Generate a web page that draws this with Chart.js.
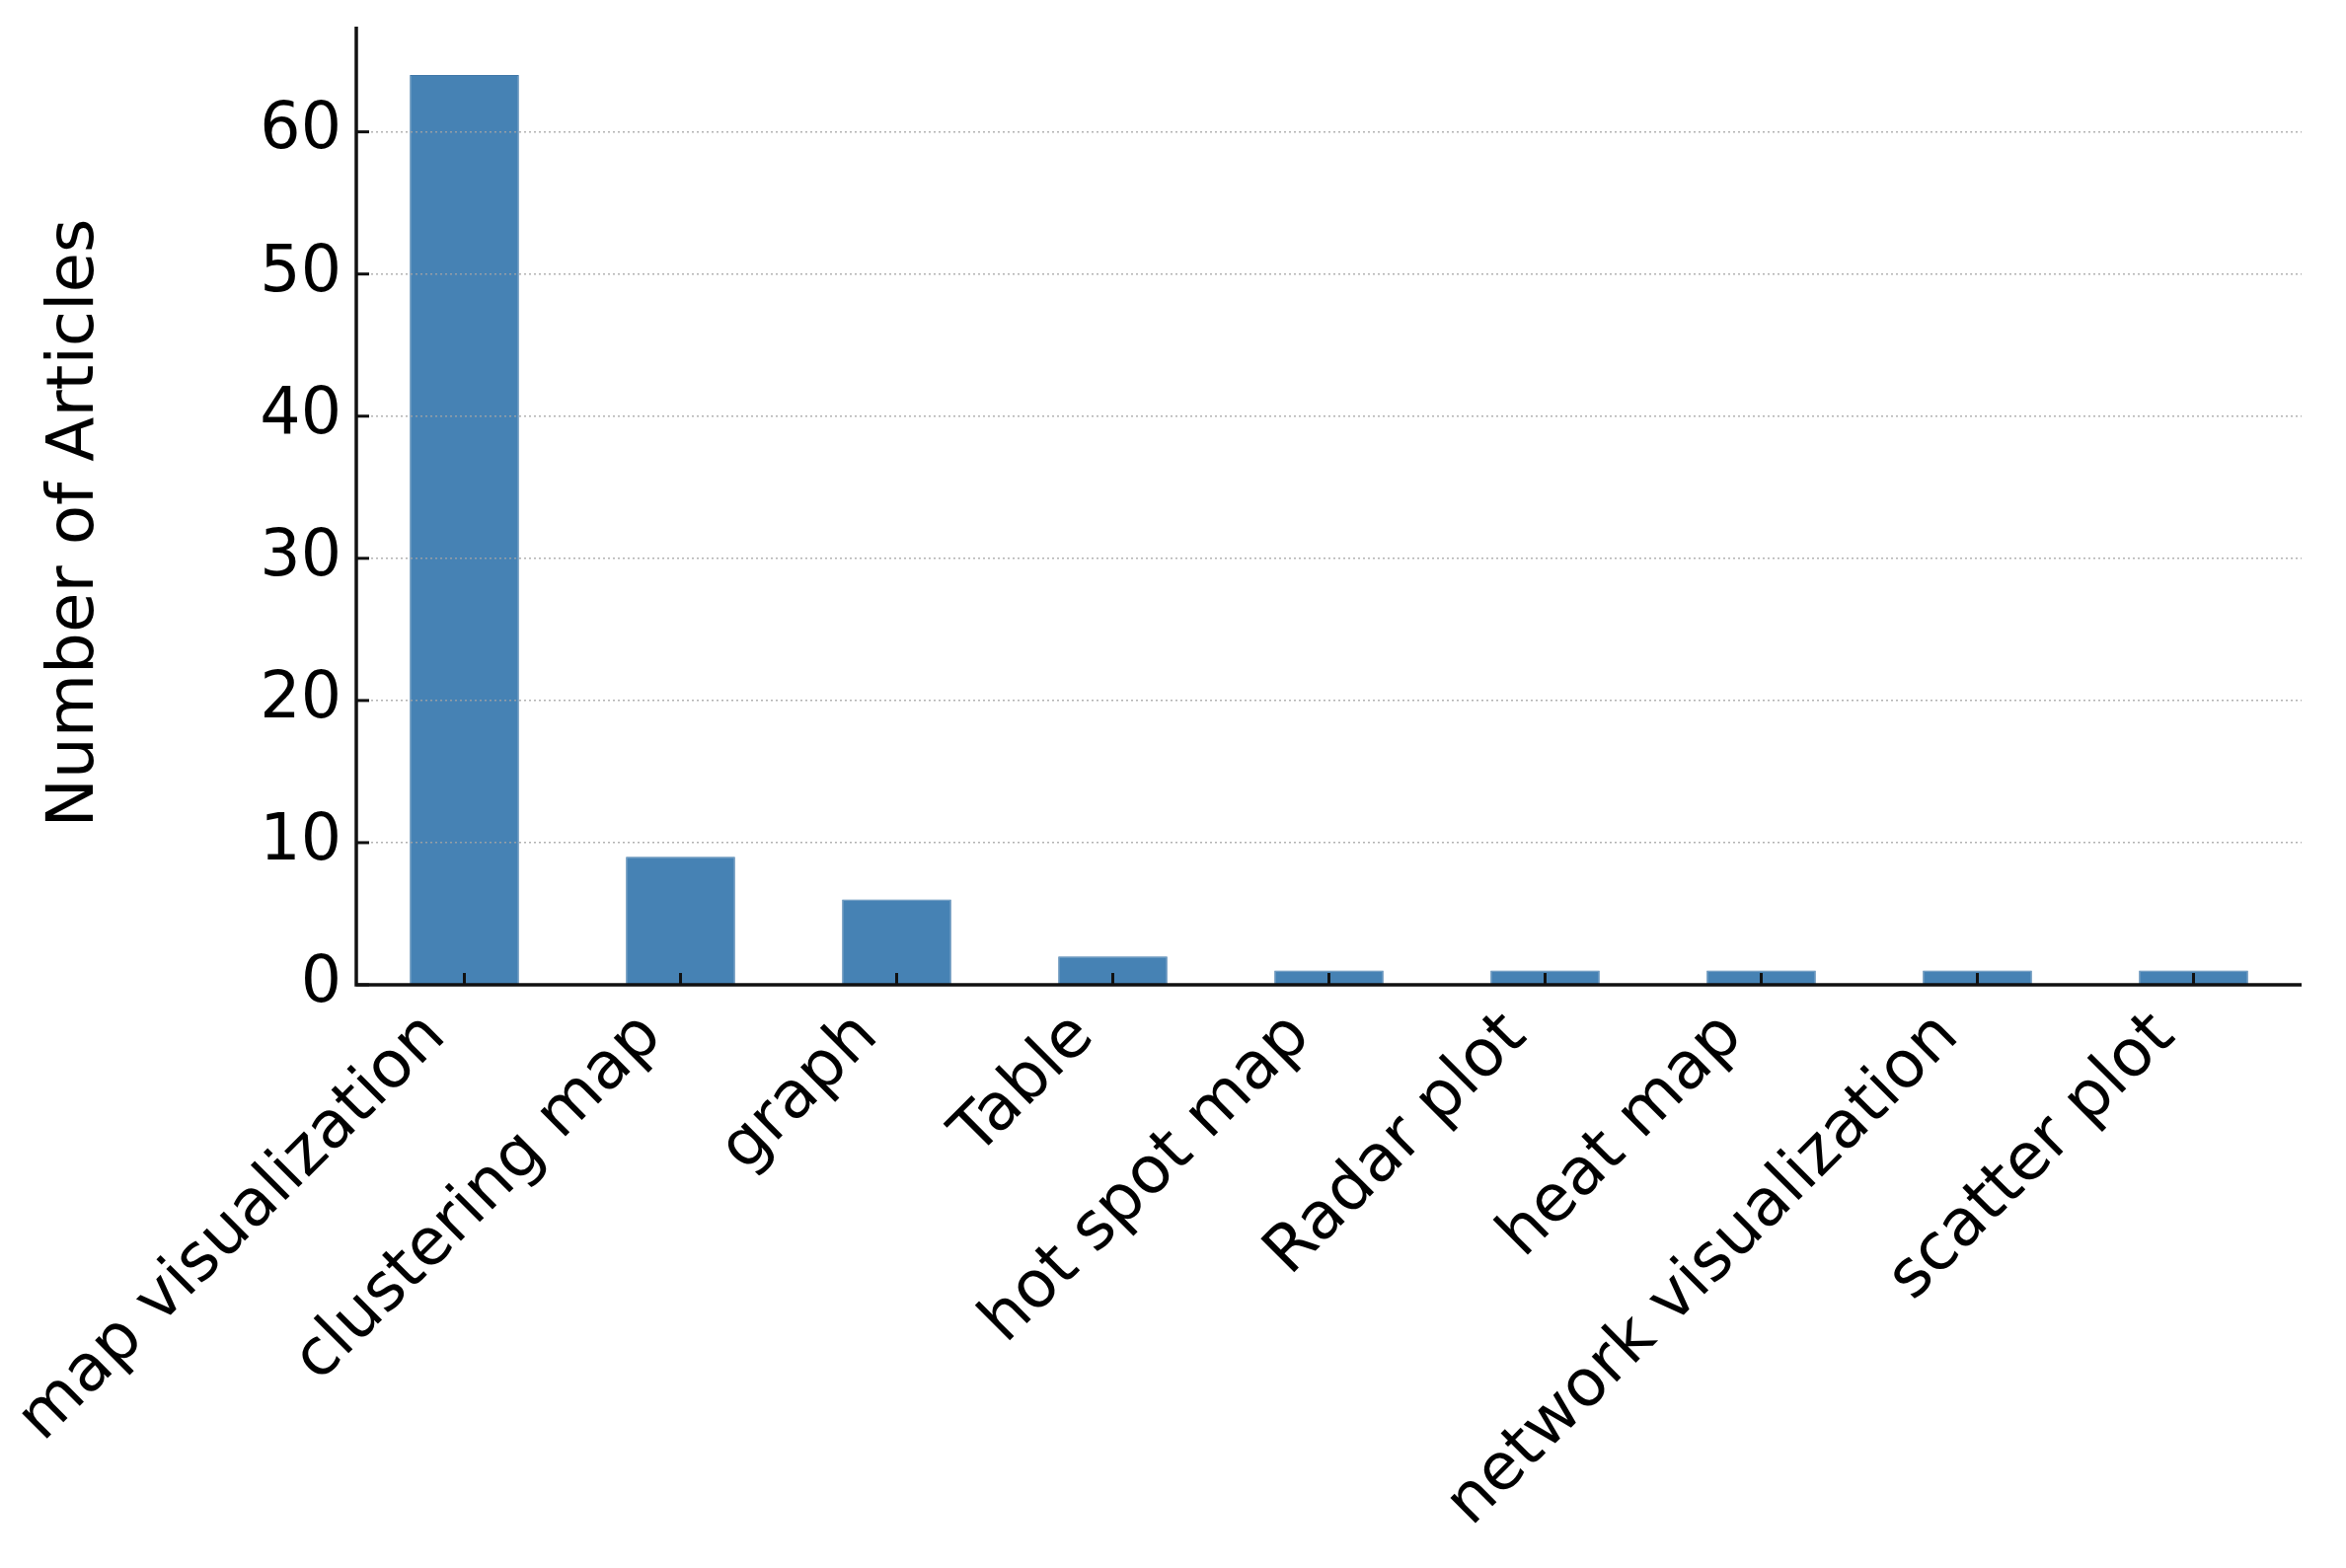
<!DOCTYPE html>
<html>
<head>
<meta charset="utf-8">
<script src="https://cdn.jsdelivr.net/npm/chart.js@4.4.1/dist/chart.umd.min.js"></script>
<style>
  html, body { margin: 0; padding: 0; background: #ffffff; }
  #wrap { width: 2377px; height: 1589px; position: relative; }
</style>
</head>
<body>
<div id="wrap"><canvas id="c" width="2377" height="1589"></canvas></div>
<script>
const categories = ["map visualization", "clustering map", "graph", "Table", "hot spot map", "Radar plot", "heat map", "network visualization", "scatter plot"];
const articleCounts = [64, 9, 6, 2, 1, 1, 1, 1, 1];
const yTickValues = [0, 10, 20, 30, 40, 50, 60];
const yAxisTitle = "Number of Articles";

const FONT = "'DejaVu Sans', 'Liberation Sans', sans-serif";

const axisDecor = {
  id: 'axisDecor',
  afterDraw(chart) {
    const ctx = chart.ctx;
    const xs = chart.scales.x, ys = chart.scales.y;
    const area = chart.chartArea;
    ctx.save();
    // axis lines (left and bottom spines)
    ctx.strokeStyle = '#111111';
    ctx.lineWidth = 3.5;
    ctx.beginPath();
    ctx.moveTo(area.left, area.top);
    ctx.lineTo(area.left, area.bottom);
    ctx.lineTo(area.right, area.bottom);
    ctx.stroke();
    // inward tick marks
    ctx.lineWidth = 3;
    xs.ticks.forEach((t, i) => {
      const px = xs.getPixelForTick(i);
      ctx.beginPath();
      ctx.moveTo(px, area.bottom);
      ctx.lineTo(px, area.bottom - 12);
      ctx.stroke();
    });
    ys.ticks.forEach((t, i) => {
      const py = ys.getPixelForTick(i);
      ctx.beginPath();
      ctx.moveTo(area.left, py);
      ctx.lineTo(area.left + 13, py);
      ctx.stroke();
    });
    // rotated category labels (matplotlib-style anchoring: text end at tick)
    ctx.fillStyle = '#000000';
    ctx.font = '66px ' + FONT;
    ctx.textAlign = 'right';
    ctx.textBaseline = 'alphabetic';
    xs.ticks.forEach((t, i) => {
      const px = xs.getPixelForTick(i);
      ctx.save();
      ctx.translate(px - 17, area.bottom + 54);
      ctx.rotate(-Math.PI / 4);
      ctx.fillText(xs.getLabelForValue(t.value), 0, 0);
      ctx.restore();
    });
    // y axis title
    ctx.save();
    ctx.font = '66px ' + FONT;
    ctx.textAlign = 'center';
    ctx.textBaseline = 'alphabetic';
    ctx.translate(94, 530);
    ctx.rotate(-Math.PI / 2);
    ctx.fillText(yAxisTitle, 0, 0);
    ctx.restore();
    ctx.restore();
  }
};

new Chart(document.getElementById('c'), {
  type: 'bar',
  data: {
    labels: categories,
    datasets: [{
      data: articleCounts,
      backgroundColor: '#4682b4',
      borderColor: '#3f77a8',
      borderWidth: 1,
      barPercentage: 0.505,
      categoryPercentage: 1.0
    }]
  },
  options: {
    responsive: false,
    animation: false,
    layout: { padding: { top: 27, right: 45, left: 0, bottom: 0 } },
    plugins: { legend: { display: false }, tooltip: { enabled: false } },
    scales: {
      x: {
        type: 'category',
        offset: true,
        grid: { display: false, drawTicks: false },
        border: { display: false },
        ticks: { display: false, autoSkip: false },
        afterFit(s) { s.height = 591; s.paddingLeft = 0; s.paddingRight = 0; }
      },
      y: {
        min: 0,
        max: 67.4,
        afterBuildTicks(s) { s.ticks = yTickValues.map(v => ({ value: v })); },
        grid: {
          z: 1,
          drawTicks: false,
          color: (c) => (c.tick && c.tick.value === 0) ? 'rgba(0,0,0,0)' : 'rgba(165,165,165,0.85)',
          lineWidth: 1.6
        },
        border: { display: false, dash: [2, 3] },
        ticks: {
          padding: 15,
          color: '#000000',
          font: { family: FONT, size: 65 }
        },
        afterFit(s) { s.width = 361; s.paddingTop = 0; s.paddingBottom = 0; }
      }
    }
  },
  plugins: [axisDecor]
});
</script>
</body>
</html>
